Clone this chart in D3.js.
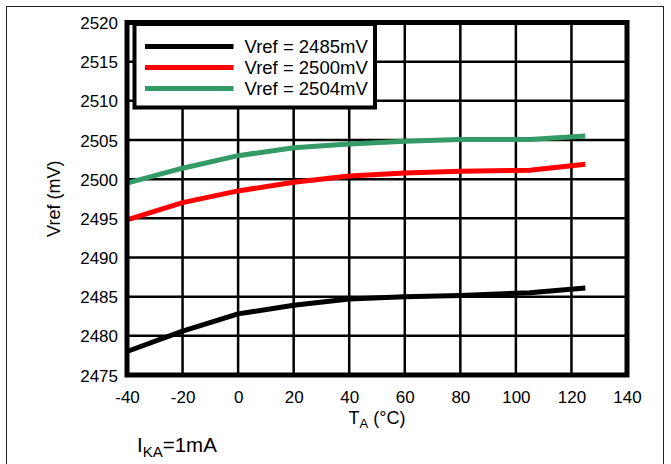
<!DOCTYPE html>
<html>
<head>
<meta charset="utf-8">
<script src="https://cdn.jsdelivr.net/npm/d3@7"></script>
<style>
  html, body { margin: 0; padding: 0; background: #fff; }
  svg { display: block; font-family: "Liberation Sans", Arial, sans-serif; }
</style>
</head>
<body>
<svg id="chart" width="671" height="464"></svg>
<script>
// ---- data ----
const temps = [-40, -20, 0, 20, 40, 60, 80, 105, 125];
const vref2485 = [2478.0, 2480.6, 2482.8, 2483.9, 2484.7, 2485.0, 2485.15, 2485.5, 2486.1];
const vref2500 = [2494.8, 2497.0, 2498.5, 2499.6, 2500.4, 2500.8, 2501.0, 2501.15, 2501.9];
const vref2504 = [2499.5, 2501.4, 2503.0, 2504.0, 2504.5, 2504.85, 2505.05, 2505.05, 2505.5];
const seriesNames = ["Vref = 2485mV", "Vref = 2500mV", "Vref = 2504mV"];
const seriesColors = ["#000000", "#ff0000", "#349a66"];
const xTicks = [-40, -20, 0, 20, 40, 60, 80, 100, 120, 140];
const yTicks = [2475, 2480, 2485, 2490, 2495, 2500, 2505, 2510, 2515, 2520];

const series = [vref2485, vref2500, vref2504].map((vals, i) => ({
  name: seriesNames[i], color: seriesColors[i],
  points: temps.map((t, j) => [t, vals[j]])
}));

const svg = d3.select("#chart");
const L = 127, R = 627, T = 22.5, B = 375;

// outer frame
svg.append("rect").attr("x", 6.5).attr("y", 6.5).attr("width", 657).attr("height", 480)
  .attr("fill", "none").attr("stroke", "#222").attr("stroke-width", 1);

const x = d3.scaleLinear().domain([-40, 140]).range([L, R]);
const y = d3.scaleLinear().domain([2475, 2520]).range([B, T]);

// grid
const grid = svg.append("g");
grid.selectAll(".vg").data(xTicks.slice(1, -1)).join("line")
  .attr("x1", d => x(d)).attr("x2", d => x(d)).attr("y1", T).attr("y2", B)
  .attr("stroke", "#000").attr("stroke-width", 2.5);
grid.selectAll(".hg").data(yTicks.slice(1, -1)).join("line")
  .attr("x1", L).attr("x2", R).attr("y1", d => y(d)).attr("y2", d => y(d))
  .attr("stroke", "#000").attr("stroke-width", 2.5);

// data lines
const line = d3.line().x(d => x(d[0])).y(d => y(d[1]));
svg.append("g").selectAll("path").data(series).join("path")
  .attr("d", d => line(d.points))
  .attr("fill", "none").attr("stroke", d => d.color).attr("stroke-width", 5)
  .attr("stroke-linejoin", "round").attr("stroke-linecap", "butt");

// plot border
svg.append("rect").attr("x", L).attr("y", T).attr("width", R - L).attr("height", B - T)
  .attr("fill", "none").attr("stroke", "#000").attr("stroke-width", 5);

// axes (labels only)
const yAxis = svg.append("g").attr("transform", `translate(${L - 9},0)`)
  .call(d3.axisLeft(y).tickValues(yTicks).tickSize(0).tickFormat(d => String(d)));
yAxis.select(".domain").remove();
yAxis.selectAll("text").attr("font-size", 17).attr("fill", "#000")
  .attr("font-family", "Liberation Sans, Arial, sans-serif").attr("dy", "0.36em").attr("x", 0);

const xAxis = svg.append("g").attr("transform", `translate(0,${B + 10})`)
  .call(d3.axisBottom(x).tickValues(xTicks).tickSize(0).tickFormat(d => String(d)));
xAxis.select(".domain").remove();
xAxis.selectAll("text").attr("font-size", 17).attr("fill", "#000")
  .attr("font-family", "Liberation Sans, Arial, sans-serif").attr("y", 0).attr("dy", "1.05em");

// axis titles
const xt = svg.append("text").attr("x", (L + R) / 2).attr("y", 424)
  .attr("text-anchor", "middle").attr("font-size", 18);
xt.append("tspan").text("T");
xt.append("tspan").attr("font-size", 13).attr("dy", 4).text("A");
xt.append("tspan").attr("dy", -4).text(" (°C)");

svg.append("text").attr("transform", `translate(60,${(T + B) / 2}) rotate(-90)`)
  .attr("text-anchor", "middle").attr("font-size", 18).text("Vref (mV)");

// condition note
const note = svg.append("text").attr("x", 137).attr("y", 452).attr("font-size", 20.5);
note.append("tspan").text("I");
note.append("tspan").attr("font-size", 15).attr("dy", 5).text("KA");
note.append("tspan").attr("dy", -5).text("=1mA");

// legend
const lg = svg.append("g");
lg.append("rect").attr("x", 134.5).attr("y", 24).attr("width", 240.5).attr("height", 83.5)
  .attr("fill", "#fff").attr("stroke", "#000").attr("stroke-width", 4);
const rows = [46.5, 67.5, 88.5];
series.forEach((s, i) => {
  lg.append("line").attr("x1", 145).attr("x2", 233.5).attr("y1", rows[i]).attr("y2", rows[i])
    .attr("stroke", s.color).attr("stroke-width", 5);
  lg.append("text").attr("x", 244.5).attr("y", rows[i] + 6.5).attr("font-size", 18.5)
    .text(s.name);
});
</script>
</body>
</html>
